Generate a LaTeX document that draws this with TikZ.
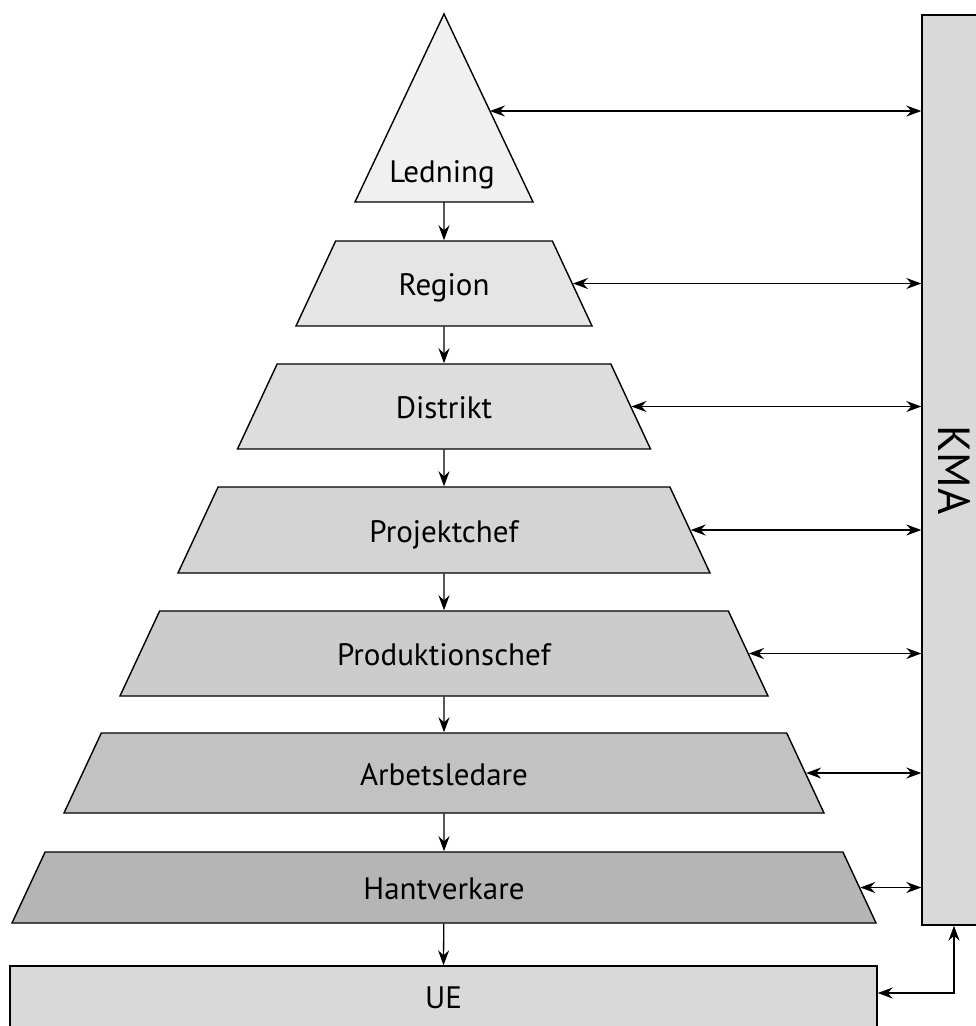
\documentclass[tikz,border=0pt]{standalone}
\usepackage{fontspec}
\setmainfont{PT Sans}
\usepackage{xcolor}
\usepackage{tikz}
\usetikzlibrary{shapes.geometric, arrows.meta, positioning, calc}

\tikzset{
  level/.style={draw, line width=1.4pt, trapezium, trapezium left angle=65,
    trapezium right angle=65, trapezium stretches body, inner sep=0pt,
    font=\fontsize{31}{36}\selectfont},
  box/.style={draw, line width=1.4pt, fill=gray!30, inner sep=0pt,
    font=\fontsize{31}{36}\selectfont},
  link/.style={line width=1.3pt, -{Stealth[length=15pt, width=11pt, inset=5pt]}},
  twoway/.style={line width=1.3pt, {Stealth[length=15pt, width=11pt, inset=5pt]}-{Stealth[length=15pt, width=11pt, inset=5pt]}}
}

\begin{document}
\begin{tikzpicture}[x=1pt, y=-1pt]
\useasboundingbox (0,0) rectangle (976,1026);
\clip (0,0) rectangle (976,1026);

\node[box, minimum width=64pt, minimum height=910pt,
  label={[rotate=-90, font=\fontsize{45}{50}\selectfont]center:KMA}] (kma) at (954,470) {};

\coordinate (ledtop) at (444,14);
\coordinate (ledbr) at (533,202);
\coordinate (ledbl) at (355,202);
\draw[line width=1.4pt, fill=gray!12] (ledtop) -- (ledbr) -- (ledbl) -- cycle;
\node[font=\fontsize{31}{36}\selectfont] (ledning) at (442,175) {Ledning};
\coordinate (ledB) at (444,202);
\coordinate (ledR) at ($(ledtop)!0.516!(ledbr)$);
\draw[twoway] (ledR) -- (ledR -| kma.west);

\foreach \name/\txt/\cy/\h/\w/\shade [remember=\name as \prev (initially ledB)] in {
    region/Region/283.5/85/296/20,
    distrikt/Distrikt/406.5/85/413/27,
    projekt/Projektchef/530/86/532/34,
    produktion/Produktionschef/653.5/85/648/40,
    arbetsled/Arbetsledare/773/80/760/48,
    hantverk/Hantverkare/887.5/71/864/58} {
  \pgfmathsetmacro{\th}{\h/2+12}
  \pgfmathsetmacro{\td}{\h/2-12}
  \node[level, fill=gray!\shade, minimum width=\w pt, text height=\th pt, text depth=\td pt] (\name) at (444,\cy) {\txt};
  \draw[link] (\prev) -- (\name.north);
  \draw[twoway] (\name.right side) -- (\name.right side -| kma.west);
}

\node[box, minimum width=867pt, minimum height=64pt] (ue) at (443.5,998) {UE};
\draw[link] (hantverk) -- (ue.north);
\draw[twoway] ([yshift=5pt]ue.east) -| (kma.south);
\end{tikzpicture}
\end{document}
